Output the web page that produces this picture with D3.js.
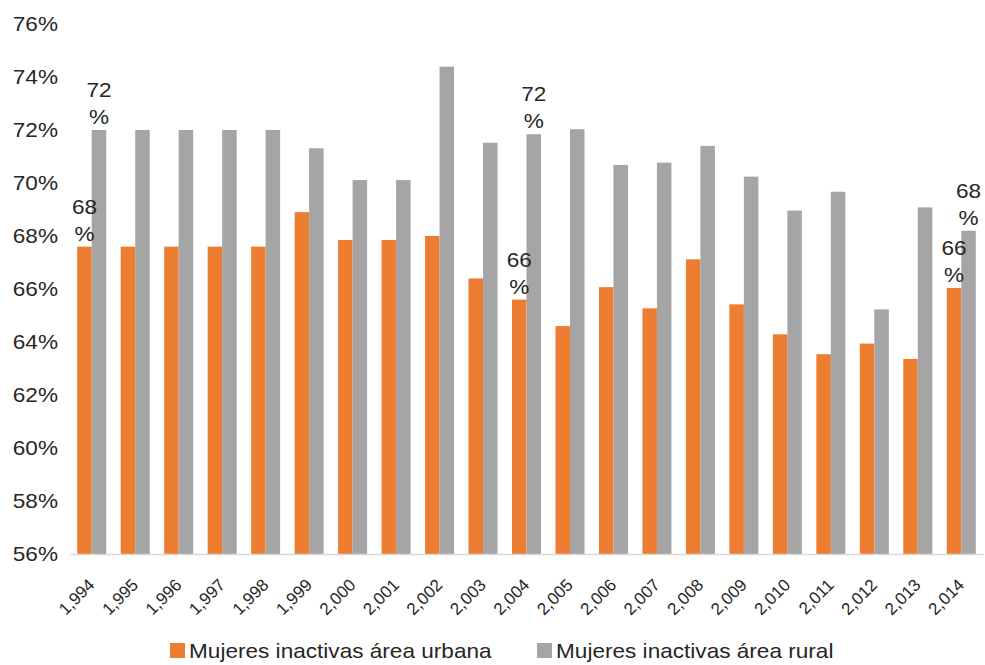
<!DOCTYPE html>
<html lang="es">
<head>
    <meta charset="UTF-8">
    <title>Mujeres inactivas</title>
    <script src="https://cdn.jsdelivr.net/npm/d3@7"></script>
    <style>
        body { margin: 0; background: #fff; }
        text { font-family: "Liberation Sans", Arial, sans-serif; fill: #262626; }
    </style>
</head>
<body>
    <svg id="main" width="985" height="665"></svg>
    <script>
        const years = ['1,994', '1,995', '1,996', '1,997', '1,998', '1,999', '2,000', '2,001', '2,002', '2,003', '2,004',
            '2,005', '2,006', '2,007', '2,008', '2,009', '2,010', '2,011', '2,012', '2,013', '2,014'];
        const urbana = [67.6, 67.6, 67.6, 67.6, 67.6, 68.9, 67.85, 67.85, 68.0, 66.4, 65.6,
            64.6, 66.07, 65.27, 67.12, 65.42, 64.29, 63.54, 63.94, 63.36, 66.04];
        const rural = [72.0, 72.0, 72.0, 72.0, 72.0, 71.31, 70.11, 70.11, 74.39, 71.52, 71.84,
            72.03, 70.68, 70.77, 71.4, 70.24, 68.96, 69.67, 65.23, 69.08, 68.2];
        const yTicks = [56, 58, 60, 62, 64, 66, 68, 70, 72, 74, 76];
        const seriesNames = ['Mujeres inactivas área urbana', 'Mujeres inactivas área rural'];
        const colors = ['#ED7D31', '#A5A5A5'];
        // which bars get a data label (year index)
        const labelled = [0, 10, 20];

        const svg = d3.select('#main');
        const plotLeft = 70, plotRight = 983, plotTop = 24, plotBottom = 554;
        const stretch = 1.13; // source text looks a bit wide

        const x = d3.scaleBand().domain(years).range([plotLeft, plotRight]).paddingInner(0.333).paddingOuter(0.1665);
        const xs = d3.scaleBand().domain([0, 1]).range([0, x.bandwidth()]);
        const y = d3.scaleLinear().domain([56, 76]).range([plotBottom, plotTop]);

        // y axis labels
        svg.append('g')
            .attr('transform', `translate(${plotLeft},0)`)
            .call(d3.axisLeft(y).tickValues(yTicks).tickSize(0).tickPadding(0).tickFormat(d => d + '%'))
            .call(g => g.select('.domain').remove())
            .selectAll('text')
            .attr('x', 0)
            .attr('transform', `translate(-12,0) scale(${stretch},1)`)
            .style('font-size', '20px');

        const data = years.map((yr, i) => ({ yr, vals: [urbana[i], rural[i]], i }));

        const groups = svg.append('g').selectAll('g')
            .data(data)
            .join('g')
            .attr('transform', d => `translate(${x(d.yr)},0)`);

        groups.selectAll('rect')
            .data(d => d.vals.map((v, k) => ({ v, k })))
            .join('rect')
            .attr('x', d => xs(d.k))
            .attr('width', xs.bandwidth())
            .attr('y', d => y(d.v))
            .attr('height', d => plotBottom - y(d.v))
            .attr('fill', d => colors[d.k]);

        // x axis line
        svg.append('g')
            .attr('transform', `translate(0,${plotBottom})`)
            .call(d3.axisBottom(x).tickSize(0).tickFormat(''))
            .call(g => g.select('.domain').attr('stroke', '#d9d9d9').attr('stroke-width', 1.5));

        // rotated year labels
        svg.append('g').selectAll('text')
            .data(years)
            .join('text')
            .attr('transform', d => `translate(${x(d) + x.bandwidth() / 2 + 4},${plotBottom + 32}) rotate(-45)`)
            .attr('text-anchor', 'end')
            .style('font-size', '17px')
            .text(d => d);

        // data labels, value on one line and % below
        const lab = svg.append('g');
        labelled.forEach(i => {
            [urbana[i], rural[i]].forEach((v, k) => {
                const cx = x(years[i]) + xs(k) + xs.bandwidth() / 2;
                const t = lab.append('text')
                    .attr('transform', `translate(${cx},${y(v)}) scale(${stretch},1)`)
                    .attr('text-anchor', 'middle')
                    .style('font-size', '20px');
                t.append('tspan').attr('x', 0).attr('y', -33).text(Math.round(v));
                t.append('tspan').attr('x', 0).attr('y', -6).text('%');
            });
        });

        // legend
        const legendX = [170, 537];
        const legend = svg.append('g').selectAll('g')
            .data(seriesNames)
            .join('g')
            .attr('transform', (d, i) => `translate(${legendX[i]},643)`);
        legend.append('rect').attr('width', 15).attr('height', 15).attr('fill', (d, i) => colors[i]);
        legend.append('text')
            .attr('transform', `translate(19,8) scale(${stretch},1)`)
            .attr('dy', '0.35em')
            .style('font-size', '20px')
            .text(d => d);
    </script>
</body>
</html>
